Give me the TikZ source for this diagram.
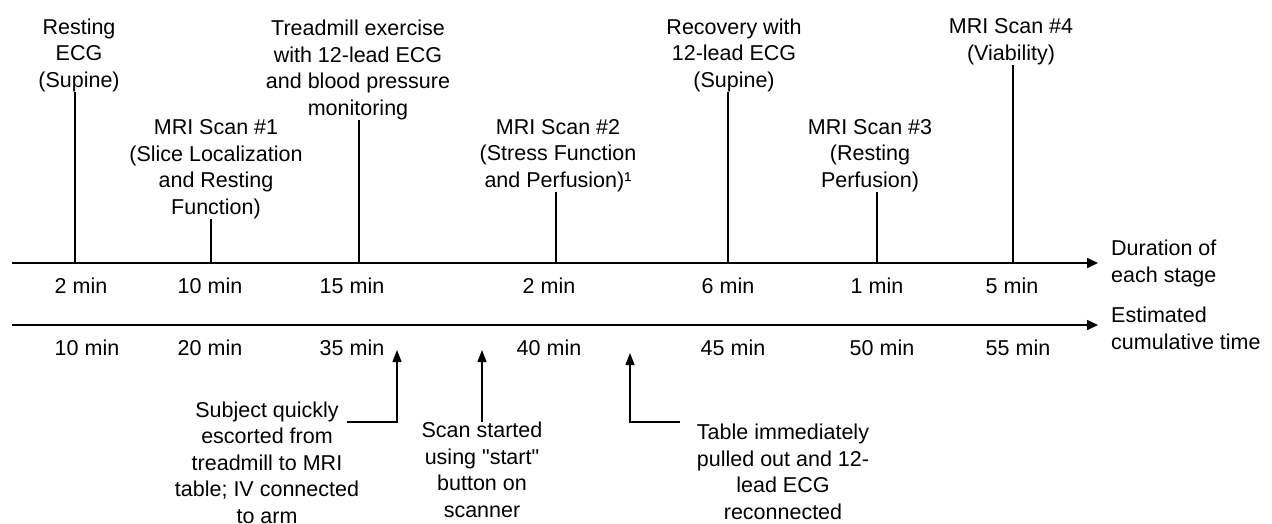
\documentclass[tikz,border=0pt]{standalone}
\usepackage{fontspec}
\setmainfont{Liberation Sans}
\usetikzlibrary{arrows.meta}
\begin{document}
\begin{tikzpicture}[x=1pt,y=-1pt,
        lbl/.style={align=center,inner sep=0pt,anchor=base,font=\fontsize{21.5}{26.5}\selectfont},
        side/.style={lbl,align=left,anchor=base west},
        axis/.style={line width=1.6pt,-{Triangle[length=11pt,width=10pt]}},
        tick/.style={line width=1.3pt},
        note/.style={line width=1.3pt,-{Triangle[length=12pt,width=9pt]}}]
        \useasboundingbox (0,0) rectangle (1272,523);

        \coordinate (d0) at (12,263);
        \coordinate (d1) at (1098,263);
        \coordinate (c0) at (12,325);
        \coordinate (c1) at (1098,325);
        \draw [axis] (d0) -- (d1);
        \draw [axis] (c0) -- (c1);

        \node (durlbl) at (1111,282) [side] {Duration of\\each stage};
        \node (cumlbl) at (1111,349) [side] {Estimated\\cumulative time};

        \node (rest) at (79,87) [lbl] {Resting\\ECG\\(Supine)};
        \node (scan1) at (216,214) [lbl] {MRI Scan \#1\\(Slice Localization\\and Resting\\Function)};
        \node (tread) at (358,115) [lbl] {Treadmill exercise\\with 12-lead ECG\\and blood pressure\\monitoring};
        \node (scan2) at (558,187) [lbl] {MRI Scan \#2\\(Stress Function\\and Perfusion)¹};
        \node (recov) at (734,87) [lbl] {Recovery with\\12-lead ECG\\(Supine)};
        \node (scan3) at (870,187) [lbl] {MRI Scan \#3\\(Resting\\Perfusion)};
        \node (scan4) at (1011,60) [lbl] {MRI Scan \#4\\(Viability)};

        \coordinate (t1) at (75,263);
        \coordinate (t2) at (211,263);
        \coordinate (t3) at (359,263);
        \coordinate (t4) at (556,263);
        \coordinate (t5) at (728,263);
        \coordinate (t6) at (877,263);
        \coordinate (t7) at (1013,263);
        \draw [tick] (t1) -- (t1 |- rest.south);
        \draw [tick] (t2) -- (t2 |- scan1.south);
        \draw [tick] (t3) -- (t3 |- tread.south);
        \draw [tick] (t4) -- (t4 |- scan2.south);
        \draw [tick] (t5) -- (t5 |- recov.south);
        \draw [tick] (t6) -- (t6 |- scan3.south);
        \draw [tick] (t7) -- (t7 |- scan4.south);

        \node (dur1) at (81,293) [lbl] {2 min};
        \node (dur2) at (210,293) [lbl] {10 min};
        \node (dur3) at (352,293) [lbl] {15 min};
        \node (dur4) at (549,293) [lbl] {2 min};
        \node (dur5) at (728,293) [lbl] {6 min};
        \node (dur6) at (877,293) [lbl] {1 min};
        \node (dur7) at (1012,293) [lbl] {5 min};

        \node (cum1) at (87,355) [lbl] {10 min};
        \node (cum2) at (210,355) [lbl] {20 min};
        \node (cum3) at (352,355) [lbl] {35 min};
        \node (cum4) at (549,355) [lbl] {40 min};
        \node (cum5) at (733,355) [lbl] {45 min};
        \node (cum6) at (882,355) [lbl] {50 min};
        \node (cum7) at (1018,355) [lbl] {55 min};

        \node (subj) at (267,523) [lbl] {Subject quickly\\escorted from\\treadmill to MRI\\table; IV connected\\to arm};
        \node (start) at (482,517) [lbl] {Scan started\\using \textquotedbl start\textquotedbl\\button on\\scanner};
        \node (table) at (783,519) [lbl] {Table immediately\\pulled out and 12-\\lead ECG\\reconnected};

        \coordinate (s1) at (347,422);
        \coordinate (s1tip) at (397,350);
        \coordinate (s2tip) at (482,350);
        \coordinate (s3) at (680,422);
        \coordinate (s3tip) at (630,353);
        \draw [note] (s1) -| (s1tip);
        \draw [note] (start.north) -- (s2tip);
        \draw [note] (s3) -| (s3tip);
    \end{tikzpicture}
\end{document}
